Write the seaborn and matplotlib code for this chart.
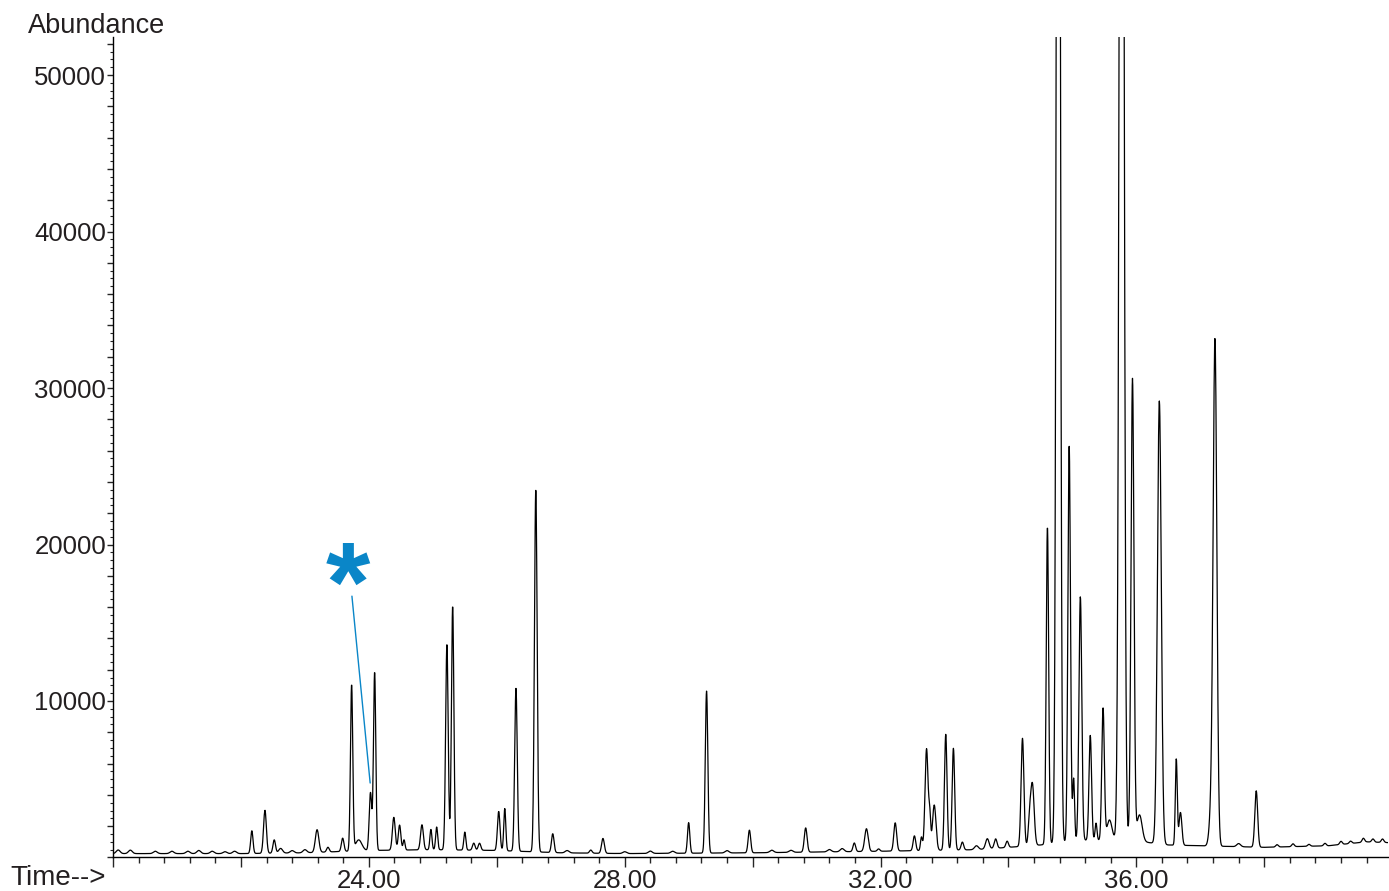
import numpy as np
import pandas as pd
import matplotlib
matplotlib.use("Agg")
import matplotlib.pyplot as plt
import seaborn as sns
from matplotlib.ticker import MultipleLocator, FuncFormatter

# Peak table (retention time in min, height above baseline, peak sigma in min)
peak_times = [20.08, 20.27, 20.66, 20.92, 21.17, 21.34, 21.55, 21.75, 21.9,
              22.17, 22.375, 22.52, 22.62, 22.8, 23.0, 23.19, 23.36, 23.59, 23.73, 23.84,
              24.025, 24.09, 24.39, 24.48, 24.55, 24.83, 24.97, 25.06,
              25.22, 25.31, 25.50, 25.64, 25.73, 26.03, 26.125, 26.30, 26.61,
              26.875, 27.1, 27.47, 27.66, 28.0, 28.4, 28.75, 29.00, 29.28, 29.6,
              29.95, 30.3, 30.6, 30.83, 31.2, 31.4,
              31.59, 31.78, 31.97, 32.23, 32.53, 32.64, 32.72, 32.77, 32.84,
              33.02, 33.14, 33.28, 33.5, 33.67, 33.80, 33.98,
              34.22, 34.33, 34.375, 34.61, 34.78, 34.95, 35.02, 35.125,
              35.28, 35.37, 35.48, 35.58, 35.77, 35.94, 36.05,
              36.36, 36.625, 36.69, 37.17, 37.23, 37.6, 37.875,
              38.2, 38.45, 38.7, 38.95, 39.2, 39.35, 39.55, 39.7, 39.85]
peak_heights = [230, 220, 150, 150, 150, 200, 150, 120, 150,
                1450, 2750, 850, 300, 150, 200, 1450, 300, 850, 10600, 700,
                3700, 11400, 2100, 1600, 650, 1600, 1300, 1450,
                13100, 15600, 1150, 450, 450, 2500, 2700, 10400, 23200,
                1200, 150, 200, 950, 120, 150, 130, 1950, 10350, 150,
                1450, 150, 130, 1550, 150, 200,
                550, 1450, 150, 1800, 950, 850, 6500, 2000, 2900,
                7400, 6500, 500, 250, 650, 600, 400,
                6900, 1500, 3900, 20300, 120000, 25400, 4000, 15600,
                6700, 1100, 8400, 1300, 120000, 29500, 1700,
                28300, 5500, 2100, 2000, 32200, 200, 3600,
                150, 180, 120, 160, 200, 150, 250, 200, 220]
peak_widths = [0.03, 0.03, 0.03, 0.03, 0.03, 0.03, 0.03, 0.03, 0.03,
               0.018, 0.022, 0.02, 0.03, 0.03, 0.03, 0.027, 0.02, 0.02, 0.018, 0.05,
               0.02, 0.018, 0.022, 0.02, 0.015, 0.022, 0.016, 0.016,
               0.02, 0.019, 0.016, 0.02, 0.02, 0.02, 0.016, 0.02, 0.021,
               0.02, 0.03, 0.02, 0.022, 0.03, 0.03, 0.03, 0.018, 0.02, 0.03,
               0.02, 0.03, 0.03, 0.022, 0.03, 0.03,
               0.02, 0.027, 0.02, 0.022, 0.02, 0.015, 0.024, 0.015, 0.027,
               0.02, 0.02, 0.02, 0.03, 0.027, 0.022, 0.02,
               0.022, 0.02, 0.027, 0.019, 0.026, 0.02, 0.015, 0.022,
               0.02, 0.015, 0.02, 0.04, 0.031, 0.023, 0.04,
               0.03, 0.015, 0.022, 0.03, 0.029, 0.03, 0.022,
               0.02, 0.02, 0.02, 0.02, 0.02, 0.02, 0.02, 0.02, 0.02]

# Baseline drift
baseline_times = [20.0, 22.0, 23.0, 24.0, 25.0, 26.0, 27.0, 28.0, 30.0, 32.0,
                  33.5, 34.5, 35.2, 35.9, 36.5, 38.0, 39.0, 39.6, 39.94]
baseline_levels = [250, 250, 300, 450, 500, 450, 300, 250, 300, 400,
                   500, 800, 1100, 1100, 800, 650, 750, 1000, 950]

# Marked compound (blue asterisk)
star_time = 24.02
star_abundance = 4760

x_label_ticks = [24, 28, 32, 36]

time = np.arange(20.0, 39.94, 0.004)
signal = np.interp(time, baseline_times, baseline_levels)
for t0, h, s in zip(peak_times, peak_heights, peak_widths):
    signal = signal + h * np.exp(-0.5 * ((time - t0) / s) ** 2)
df = pd.DataFrame({"Time": time, "Abundance": signal})

sns.set_style("ticks")
plt.rcParams["font.family"] = ["Liberation Sans", "DejaVu Sans"]
text_color = "#231f20"

fig, ax = plt.subplots(figsize=(13.89, 8.91), dpi=100)
fig.subplots_adjust(left=0.0814, right=0.9995, bottom=0.0376, top=0.9585)

sns.lineplot(data=df, x="Time", y="Abundance", color="black", lw=0.9, ax=ax)
ax.set(xlim=(20.0, 39.94), ylim=(0, 52430), xlabel="", ylabel="")
sns.despine(ax=ax)
for side in ["left", "bottom"]:
    ax.spines[side].set_linewidth(1.0)
    ax.spines[side].set_color("black")

# x ticks: long every 2 min, short every 0.4 min, labels every 4 min
ax.xaxis.set_major_locator(MultipleLocator(2.0))
ax.xaxis.set_minor_locator(MultipleLocator(0.4))
ax.xaxis.set_major_formatter(FuncFormatter(
    lambda v, p: f"{v:.2f}" if round(v) in x_label_ticks and abs(v - round(v)) < 1e-6 else ""))
ax.tick_params(axis="x", which="major", length=7, width=1, pad=1.5,
               labelsize=18.5, labelcolor=text_color, direction="out")
ax.tick_params(axis="x", which="minor", length=4, width=1, direction="out")

# y ticks: every 2000 with labels every 10000, minor every 500
ax.yaxis.set_major_locator(MultipleLocator(2000))
ax.yaxis.set_minor_locator(MultipleLocator(500))
ax.yaxis.set_major_formatter(FuncFormatter(
    lambda v, p: f"{int(v)}" if v > 0 and int(v) % 10000 == 0 else ""))
ax.tick_params(axis="y", which="major", length=4, width=1, pad=1,
               labelsize=18.5, labelcolor=text_color, direction="out")
ax.tick_params(axis="y", which="minor", length=2.2, width=0.8, direction="out")

# Annotation for the marked peak
blue = "#0a86c8"
ax.annotate("", xy=(star_time, star_abundance), xytext=(23.735, 16700),
            arrowprops=dict(arrowstyle="-", color=blue, lw=1, shrinkA=0, shrinkB=0))
ax.text(23.67, 16965, "*", color=blue, fontsize=82, fontweight="bold",
        ha="center", va="center")

fig.text(28 / 1389, 1 - 26 / 891, "Abundance", fontsize=19.5, color=text_color,
         ha="left", va="center")
fig.text(10 / 1389, 1 - 878 / 891, "Time-->", fontsize=20, color=text_color,
         ha="left", va="center")

fig.savefig("out.png", dpi=100)
